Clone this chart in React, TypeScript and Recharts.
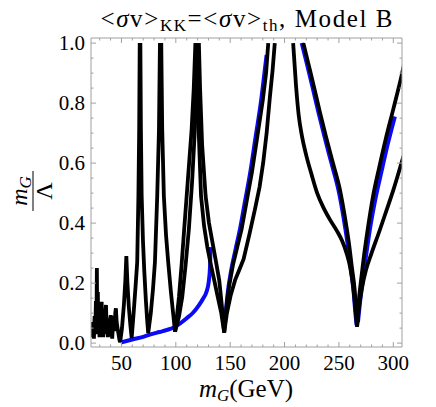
import React from "react";
import { LineChart, Line, XAxis, YAxis } from "recharts";

type Pt = { x: number; y: number | null };

// values: [mG in GeV, mG/Lambda]
const lowMassCurve: (number | null)[][] = [
  [22.3, 0.03], [22.9, 0.07], [23.5, 0.02], [24.1, 0.06], [24.7, 0.015], [25.3, 0.09],
  [25.9, 0.03], [26.5, 0.14], [27, 0.05], [27.4, 0.25], [27.8, 0.04], [28.3, 0.17],
  [28.8, 0.03], [29.3, 0.12], [29.8, 0.02], [30.3, 0.09], [30.8, 0.03], [31.3, 0.1],
  [31.8, 0.138], [32.3, 0.04], [32.8, 0.08], [33.3, 0.02], [33.9, 0.09], [34.5, 0.03],
  [35.1, 0.1], [35.8, 0.127], [36.4, 0.04], [37, 0.07], [37.6, 0.02], [38.3, 0.06],
  [39, 0.03], [39.6, 0.08], [40.2, 0.093], [40.8, 0.04], [41.5, 0.015], [42.2, 0.06],
  [43, 0.09], [43.7, 0.04], [44.3, 0.1], [44.9, 0.116], [45.6, 0.07], [46.4, 0.05],
  [47.3, 0.03], [48.2, 0.01], [48.8, 0.003],
  [50.5, 0.05], [52.3, 0.13], [53.6, 0.21], [54.5, 0.29], [55.5, 0.2],
  [56.8, 0.12], [58.2, 0.06], [59.4, 0.017], [61.2, 0.1], [63, 0.19], [64.5, 0.27],
  [65.6, 0.49], [66.3, 0.71], [66.8, 1.0], [67.1, null], [67.4, 1.0], [67.9, 0.71],
  [68.6, 0.49], [69.8, 0.34], [71, 0.24], [72.5, 0.14], [73.6, 0.08], [74.6, 0.033],
  [77, 0.1], [79, 0.18], [80.8, 0.27], [82.9, 0.49], [84.5, 0.71], [85.4, 1.0],
  [86, null], [86.6, 1.0], [87.5, 0.71], [89, 0.49], [91, 0.36], [93, 0.27],
  [95.5, 0.17], [97.5, 0.1], [99.3, 0.038],
];

const curveA: (number | null)[][] = [
  [99.3, 0.038], [101, 0.09], [102.9, 0.154], [105.3, 0.26], [107.7, 0.38], [111, 0.54],
  [114.5, 0.71], [116.5, 0.85], [118, 1.0], [118.5, null], [119, 1.0], [120, 0.85],
  [121.3, 0.68], [123.2, 0.49], [126, 0.39], [129, 0.32], [132, 0.265], [135.3, 0.21],
  [138.5, 0.155], [141.8, 0.1], [144.5, 0.035], [146.5, 0.12], [149, 0.19], [152.5, 0.26],
  [156.5, 0.32], [160.5, 0.38], [165, 0.47], [170, 0.57], [175, 0.69], [180, 0.81],
  [183, 0.9], [185, 1.0],
];

const curveB: (number | null)[][] = [
  [99.3, 0.038], [103, 0.09], [105.9, 0.154], [109, 0.26], [112, 0.38], [115, 0.54],
  [117.5, 0.71], [119, 0.86], [120.2, 1.0], [120.7, null], [121.2, 1.0], [122.3, 0.85],
  [124.2, 0.66], [127.4, 0.49], [130.5, 0.4], [134, 0.33], [137, 0.27], [139.9, 0.21],
  [142.2, 0.13], [144.5, 0.035], [147, 0.1], [150.5, 0.16], [154.5, 0.21], [158.5, 0.245],
  [162.3, 0.28], [167.5, 0.36], [173, 0.45], [177, 0.52], [180.3, 0.6], [183.5, 0.7],
  [186.5, 0.82], [189, 0.91], [191, 1.0],
];

// branches around the 266 GeV dip (monotone pieces, cusp at the ends)
const curveC: (number | null)[][] = [
  [207.9, 1.0], [210.5, 0.86], [213, 0.76], [216, 0.69], [220, 0.625], [225, 0.56],
  [230, 0.5], [236, 0.45], [242, 0.41], [248, 0.375], [253, 0.34], [257, 0.3],
  [260.5, 0.25], [263, 0.19], [265, 0.12], [266.7, 0.055],
];

const curveD: (number | null)[][] = [
  [217.3, 1.0], [222, 0.93], [227, 0.855], [232.5, 0.77], [238, 0.69], [244.5, 0.6],
  [251, 0.51], [255.5, 0.42], [259.3, 0.33], [262, 0.25], [264.5, 0.177], [265.8, 0.11],
  [266.7, 0.055],
];

const curveE: (number | null)[][] = [
  [266.7, 0.055], [268, 0.13], [270, 0.2], [272.3, 0.27], [276.5, 0.38], [281.4, 0.49],
  [287, 0.585], [293, 0.68], [300, 0.78], [307.5, 0.89], [310, 0.93],
];

const curveF: (number | null)[][] = [
  [266.7, 0.055], [268.5, 0.12], [271, 0.18], [275, 0.245], [280, 0.3], [287.6, 0.377],
  [293.5, 0.44], [300, 0.51], [307.5, 0.6], [310, 0.63],
];

const blueLow: (number | null)[][] = [
  [49.3, 0.002], [60, 0.012], [70, 0.021], [76, 0.028], [85, 0.037], [92, 0.044],
  [98, 0.052], [104, 0.066], [110, 0.083], [116, 0.102], [121, 0.125], [125, 0.148],
  [128.3, 0.172], [130.3, 0.205], [131.4, 0.25], [131.9, 0.32],
];

const blueRise: (number | null)[][] = [
  [145.5, 0.08], [147.5, 0.16], [150.8, 0.24], [154.8, 0.31], [159, 0.38], [163.5, 0.47],
  [168.5, 0.57], [173.5, 0.69], [178.5, 0.81], [181.5, 0.9], [183.5, 0.96],
];

const blueFall: (number | null)[][] = [
  [215.8, 1.0], [220.6, 0.93], [225.6, 0.855], [231.1, 0.77], [236.6, 0.69], [243.1, 0.6],
  [249.6, 0.51], [254.2, 0.42], [258, 0.33], [260.8, 0.25], [263.4, 0.177], [264.9, 0.11],
  [266.2, 0.06],
];

const blueRight: (number | null)[][] = [
  [267.5, 0.07], [269.5, 0.14], [272, 0.21], [274.5, 0.28], [278.5, 0.38], [283.5, 0.48],
  [289, 0.57], [295, 0.665], [301.4, 0.755],
];

const X_TICKS = [30, 40, 50, 60, 70, 80, 90, 100, 110, 120, 130, 140, 150, 160, 170, 180, 190, 200,
  210, 220, 230, 240, 250, 260, 270, 280, 290, 300];
const X_LABELS = [50, 100, 150, 200, 250, 300];
const Y_TICKS = [0, 0.05, 0.1, 0.15, 0.2, 0.25, 0.3, 0.35, 0.4, 0.45, 0.5, 0.55, 0.6, 0.65, 0.7,
  0.75, 0.8, 0.85, 0.9, 0.95, 1.0];
const Y_LABELS = [0, 0.2, 0.4, 0.6, 0.8, 1.0];

const FONT = "Liberation Serif, Times New Roman, serif";
const FRAME = "#a0a0a0";

const pts = (a: (number | null)[][]): Pt[] => a.map(([x, y]) => ({ x: x as number, y }));

const cuspSeries = [lowMassCurve, curveA, curveB];
const smoothSeries = [curveC, curveD, curveE, curveF];
const blueSeries = [blueLow, blueRise, blueFall, blueRight];

function makeTick(side: "bottom" | "top" | "left" | "right") {
  return (p: any) => {
    const { x, y, payload } = p;
    const v = payload.value;
    const isX = side === "bottom" || side === "top";
    const major = isX ? X_LABELS.includes(v) : Y_LABELS.includes(v);
    const len = major ? 5 : 2.5;
    let line;
    if (side === "bottom") line = <line x1={x} y1={y} x2={x} y2={y - len} stroke={FRAME} />;
    else if (side === "top") line = <line x1={x} y1={y} x2={x} y2={y + len} stroke={FRAME} />;
    else if (side === "left") line = <line x1={x} y1={y} x2={x + len} y2={y} stroke={FRAME} />;
    else line = <line x1={x} y1={y} x2={x - len} y2={y} stroke={FRAME} />;
    let label = null;
    if (major && side === "bottom") {
      label = (
        <text x={x} y={y + 23} textAnchor="middle" fontFamily={FONT} fontSize={21} fill="#000">
          {v}
        </text>
      );
    } else if (major && side === "left") {
      label = (
        <text x={x - 6} y={y + 7} textAnchor="end" fontFamily={FONT} fontSize={21} fill="#000">
          {v.toFixed(1)}
        </text>
      );
    }
    return <g>{line}{label}</g>;
  };
}

export default function App() {
  const xDomain = [22, 308];
  const yDomain = [-0.013, 1.017];
  return (
    <div style={{ position: "absolute", left: 0, top: 0, width: 436, height: 407, background: "#fff" }}>
      <LineChart width={436} height={407} margin={{ top: 37, right: 33, bottom: 59, left: 90 }}>
        <XAxis dataKey="x" type="number" domain={xDomain} allowDataOverflow ticks={X_TICKS}
          interval={0} height={1} tickSize={0} tickMargin={0} tickLine={false}
          axisLine={{ stroke: FRAME }} tick={makeTick("bottom")} />
        <XAxis xAxisId="top" orientation="top" dataKey="x" type="number" domain={xDomain}
          allowDataOverflow ticks={X_TICKS} interval={0} height={1} tickSize={0} tickMargin={0}
          tickLine={false} axisLine={{ stroke: FRAME }} tick={makeTick("top")} />
        <YAxis type="number" domain={yDomain} allowDataOverflow ticks={Y_TICKS} interval={0}
          width={1} tickSize={0} tickMargin={0} tickLine={false} axisLine={{ stroke: FRAME }}
          tick={makeTick("left")} />
        <YAxis yAxisId="right" orientation="right" type="number" domain={yDomain} allowDataOverflow
          ticks={Y_TICKS} interval={0} width={1} tickSize={0} tickMargin={0} tickLine={false}
          axisLine={{ stroke: FRAME }} tick={makeTick("right")} />
        {blueSeries.map((s, i) => (
          <Line key={"b" + i} data={pts(s)} dataKey="y" type="monotone" stroke="#0a0af5"
            strokeWidth={4} dot={false} activeDot={false} isAnimationActive={false} />
        ))}
        {cuspSeries.map((s, i) => (
          <Line key={"k" + i} data={pts(s)} dataKey="y" type="linear" stroke="#000"
            strokeWidth={3.8} dot={false} activeDot={false} isAnimationActive={false} />
        ))}
        {smoothSeries.map((s, i) => (
          <Line key={"s" + i} data={pts(s)} dataKey="y" type="monotone" stroke="#000"
            strokeWidth={3.8} dot={false} activeDot={false} isAnimationActive={false} />
        ))}
      </LineChart>
      <svg width={436} height={407} style={{ position: "absolute", left: 0, top: 0, pointerEvents: "none" }}>
        <text x={246.5} y={27} textAnchor="middle" fontFamily={FONT} fontSize={25}
          textLength={292} lengthAdjust="spacing">
          <tspan>&lt;</tspan><tspan fontStyle="italic">σ</tspan><tspan>v&gt;</tspan>
          <tspan fontSize={17} dy={4}>KK</tspan>
          <tspan dy={-4}>=&lt;</tspan><tspan fontStyle="italic">σ</tspan><tspan>v&gt;</tspan>
          <tspan fontSize={17} dy={4}>th</tspan>
          <tspan dy={-4}>, Model B</tspan>
        </text>
        <text x={246} y={397} textAnchor="middle" fontFamily={FONT} fontSize={25}>
          <tspan fontStyle="italic">m</tspan>
          <tspan fontStyle="italic" fontSize={17} dy={4}>G</tspan>
          <tspan dy={-4}>(GeV)</tspan>
        </text>
        <g transform="translate(33,191) rotate(-90)" fontFamily={FONT}>
          <line x1={-20} y1={0} x2={20} y2={0} stroke="#000" strokeWidth={1} />
          <text x={0} y={-6} textAnchor="middle" fontSize={24}>
            <tspan fontStyle="italic">m</tspan>
            <tspan fontStyle="italic" fontSize={17} dy={4}>G</tspan>
          </text>
          <text x={0} y={19} textAnchor="middle" fontSize={24}>Λ</text>
        </g>
      </svg>
    </div>
  );
}
